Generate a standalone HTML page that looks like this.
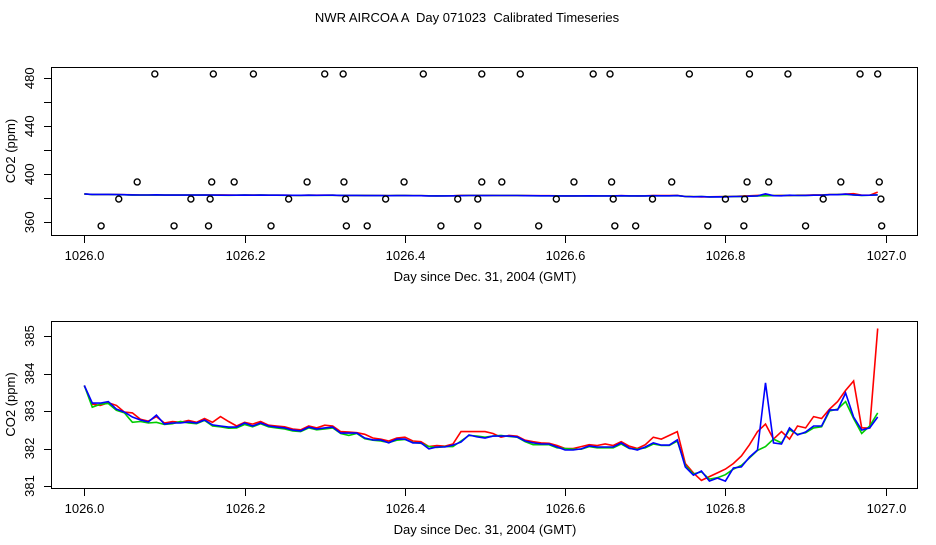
<!DOCTYPE html>
<html><head><meta charset="utf-8"><style>
body{margin:0;background:#fff;}
svg text{font-family:"Liberation Sans",sans-serif;font-size:13px;fill:#000;}
</style></head><body>
<svg id="c" width="936" height="540" xmlns="http://www.w3.org/2000/svg">
<rect width="936" height="540" fill="#fff"/>
<text x="467" y="22" text-anchor="middle" xml:space="preserve">NWR AIRCOA A  Day 071023  Calibrated Timeseries</text>
</svg>
<script>
const blue=[383.68,383.21,383.21,383.25,383.05,382.97,382.84,382.76,382.71,382.89,382.65,382.68,382.68,382.71,382.68,382.76,382.63,382.60,382.57,382.57,382.68,382.60,382.68,382.60,382.57,382.55,382.49,382.47,382.57,382.52,382.55,382.57,382.41,382.41,382.41,382.28,382.23,382.23,382.15,382.25,382.25,382.15,382.15,381.99,382.04,382.04,382.09,382.17,382.36,382.31,382.28,382.33,382.33,382.33,382.31,382.20,382.15,382.12,382.12,382.04,381.96,381.96,381.99,382.07,382.04,382.04,382.04,382.15,382.01,381.96,382.04,382.15,382.09,382.09,382.23,381.51,381.29,381.40,381.13,381.21,381.13,381.48,381.51,381.77,381.96,383.75,382.15,382.12,382.55,382.36,382.44,382.60,382.60,383.03,383.03,383.48,382.84,382.49,382.55,382.84];
const red=[383.68,383.18,383.15,383.22,383.15,382.97,382.95,382.78,382.73,382.85,382.68,382.72,382.70,382.75,382.70,382.80,382.70,382.85,382.72,382.60,382.70,382.65,382.72,382.62,382.60,382.58,382.52,382.50,382.60,382.55,382.62,382.60,382.45,382.44,382.42,382.38,382.28,382.25,382.20,382.28,382.30,382.20,382.18,382.05,382.08,382.06,382.12,382.45,382.45,382.45,382.45,382.40,382.30,382.35,382.33,382.22,382.18,382.15,382.14,382.08,382.00,382.00,382.05,382.10,382.08,382.12,382.08,382.18,382.06,382.00,382.10,382.30,382.25,382.35,382.45,381.60,381.35,381.15,381.25,381.35,381.45,381.60,381.80,382.10,382.45,382.65,382.25,382.45,382.25,382.60,382.55,382.85,382.80,383.05,383.25,383.55,383.80,382.55,382.55,385.20];
const green=[383.68,383.10,383.18,383.20,383.02,382.95,382.70,382.72,382.68,382.70,382.64,382.66,382.72,382.68,382.66,382.75,382.60,382.58,382.54,382.55,382.64,382.58,382.66,382.58,382.55,382.52,382.47,382.45,382.55,382.50,382.52,382.55,382.40,382.35,382.40,382.26,382.22,382.20,382.16,382.22,382.24,382.16,382.14,382.05,382.03,382.05,382.05,382.20,382.35,382.33,382.30,382.33,382.35,382.32,382.30,382.18,382.10,382.10,382.10,382.02,382.00,381.98,381.98,382.05,382.02,382.02,382.02,382.12,382.00,381.98,382.02,382.12,382.08,382.08,382.20,381.55,381.32,381.38,381.18,381.22,381.30,381.45,381.55,381.75,381.95,382.05,382.25,382.15,382.50,382.38,382.42,382.55,382.58,383.00,383.05,383.25,382.80,382.40,382.60,382.95];
const scatterDays=[1026.088,1026.161,1026.211,1026.300,1026.323,1026.423,1026.496,1026.544,1026.635,1026.656,1026.755,1026.830,1026.878,1026.968,1026.990,
1026.066,1026.159,1026.187,1026.278,1026.324,1026.399,1026.496,1026.521,1026.611,1026.658,1026.733,1026.827,1026.854,1026.944,1026.992,
1026.043,1026.133,1026.157,1026.255,1026.326,1026.376,1026.466,1026.491,1026.589,1026.660,1026.709,1026.800,1026.824,1026.922,1026.994,
1026.021,1026.112,1026.155,1026.233,1026.327,1026.353,1026.445,1026.491,1026.567,1026.662,1026.688,1026.778,1026.823,1026.900,1026.995];
const scatterVals=[483.6,483.6,483.6,483.6,483.6,483.6,483.6,483.6,483.6,483.6,483.6,483.6,483.6,483.6,483.6,
393.6,393.6,393.6,393.6,393.6,393.6,393.6,393.6,393.6,393.6,393.6,393.6,393.6,393.6,393.6,
379.4,379.4,379.4,379.4,379.4,379.4,379.4,379.4,379.4,379.4,379.4,379.4,379.4,379.4,379.4,
357,357,357,357,357,357,357,357,357,357,357,357,357,357,357];
const xTicks=[1026.0,1026.2,1026.4,1026.6,1026.8,1027.0];
const topYTicks=[360,380,400,420,440,460,480];
const topYLabels=[360,400,440,480];
const botYTicks=[381,382,383,384,385];

const NS='http://www.w3.org/2000/svg', svg=document.getElementById('c');
const days=blue.map((v,i)=>1026+i*0.01);
const X=d=>84.3+(d-1026)*801.4;
function el(t,a,p){const e=document.createElementNS(NS,t);for(const k in a)e.setAttribute(k,a[k]);(p||svg).appendChild(e);return e;}
function panel(top,bot,yMap,yTicks,yLabels,name){
  const g=el('g',{});
  
  
  const b=el('rect',{x:51.5,y:top+.5,width:866,height:bot-top,fill:'none',stroke:'#000'},g);
  
  
  xTicks.forEach(t=>{
    const x=Math.round(X(t))+.5;
    const l=el('line',{x1:x,x2:x,y1:bot+.5,y2:bot+8,stroke:'#000'},g);
    
    
    const tx=el('text',{x:x,y:bot+25,'text-anchor':'middle'},g);tx.textContent=t.toFixed(1);
    
    
  });
  yTicks.forEach(t=>{
    const y=Math.round(yMap(t))+.5;
    const l=el('line',{x1:44,x2:51.5,y1:y,y2:y,stroke:'#000'},g);
    
    
  });
  yLabels.forEach(t=>{
    const y=yMap(t);
    const tx=el('text',{x:0,y:0,'text-anchor':'middle',transform:`translate(34,${y}) rotate(-90)`},g);tx.textContent=t;
    
    
  });
  const yt=el('text',{x:0,y:0,'text-anchor':'middle',transform:`translate(15,${(top+bot)/2}) rotate(-90)`},g);yt.textContent='CO2 (ppm)';
  
  
  const xt=el('text',{x:485,y:bot+46,'text-anchor':'middle'},g);xt.textContent='Day since Dec. 31, 2004 (GMT)';
  
  
  [[red,'#f00','red-series'],[green,'#0c0','green-series'],[blue,'#00f','blue-series']].forEach(([s,c,n])=>{
    const p=el('polyline',{points:s.map((v,i)=>X(days[i]).toFixed(1)+','+yMap(v).toFixed(1)).join(' '),fill:'none',stroke:c,'stroke-width':1.6},g);
    
    
  });
  return g;
}
const topY=v=>78.3+(480-v)*1.2;
const botY=v=>336+(385-v)*37.5;
const g1=panel(67,235,topY,topYTicks,topYLabels,'top-panel');
scatterDays.forEach((d,i)=>{
  const c=el('circle',{cx:X(d),cy:topY(scatterVals[i]),r:3,fill:'none',stroke:'#000','stroke-width':1.4},g1);
  
  
});
panel(321,488,botY,botYTicks,botYTicks,'bottom-panel');
</script>
</body></html>
